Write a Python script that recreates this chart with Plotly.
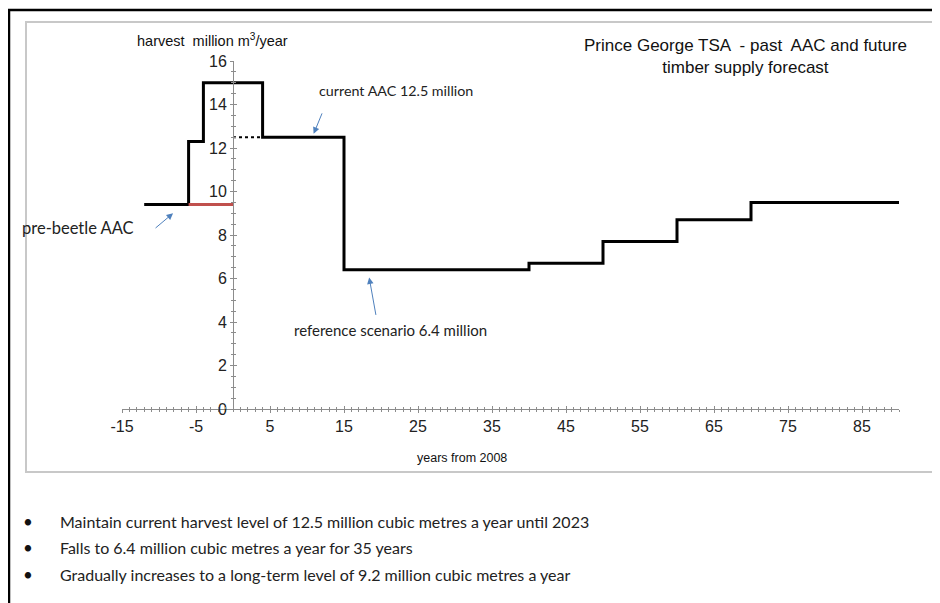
import plotly.graph_objects as go

# ---- data ----
step_years = [-12, -6, -4, 4, 15, 40, 50, 60, 70, 90]
step_harvest = [9.4, 12.3, 15.0, 12.5, 6.4, 6.7, 7.7, 8.7, 9.5, 9.5]
prebeetle_years = [-6, 0]
prebeetle_harvest = [9.4, 9.4]
current_aac_years = [0, 4]
current_aac_harvest = [12.5, 12.5]

x_tick_vals = [-15, -5, 5, 15, 25, 35, 45, 55, 65, 75, 85]
x_tick_text = ["-15", "-5", "5", "15", "25", "35", "45", "55", "65", "75", "85"]
y_tick_vals = [0, 2, 4, 6, 8, 10, 12, 14, 16]

title_text = "Prince George TSA  - past  AAC and future<br>timber supply forecast"
bullets = [
    "Maintain current harvest level of 12.5 million cubic metres a year until 2023",
    "Falls to 6.4 million cubic metres a year for 35 years",
    "Gradually increases to a long-term level of 9.2 million cubic metres a year",
]

# page body has an 8px margin: work in screen coordinates, shift by OFF
OFF = 8
W, H = 940 - OFF, 603 - OFF
PX0, PX1, PY0, PY1 = 122, 899, 61, 409   # plot area in screen px
L, R, T, B = PX0 - OFF, W - (PX1 - OFF), PY0 - OFF, H - (PY1 - OFF)
PW, PH = W - L - R, H - T - B

def px(x):
    return (x - OFF - L) / PW

def py(y):
    return (H - B - (y - OFF)) / PH

SANS = "Liberation Sans, Arial, sans-serif"
CAL = "Lato, Carlito, Calibri, sans-serif"

fig = go.Figure()
fig.add_trace(go.Scatter(x=step_years, y=step_harvest, mode="lines",
                         line=dict(color="black", width=3, shape="hv"),
                         hoverinfo="skip", showlegend=False))
fig.add_trace(go.Scatter(x=prebeetle_years, y=prebeetle_harvest, mode="lines",
                         line=dict(color="#c0504d", width=3),
                         hoverinfo="skip", showlegend=False))
fig.add_trace(go.Scatter(x=current_aac_years, y=current_aac_harvest, mode="lines",
                         line=dict(color="black", width=2, dash="dot"),
                         hoverinfo="skip", showlegend=False))
fig.add_trace(go.Scatter(x=[0], y=[0], xaxis="x2", yaxis="y2", mode="markers",
                         marker=dict(opacity=0), hoverinfo="skip", showlegend=False))

axcommon = dict(showgrid=False, zeroline=False, showline=True,
                linecolor="#8c8c8c", linewidth=1, tickcolor="#8c8c8c")
yposition = (0 - (-15)) / (90 - (-15))

fig.update_layout(
    width=W, height=H,
    margin=dict(l=L, r=R, t=T, b=B),
    paper_bgcolor="white", plot_bgcolor="white",
    xaxis=dict(range=[-15, 90], tickvals=x_tick_vals, ticktext=x_tick_text,
               ticks="outside", ticklen=3,
               minor=dict(dtick=1, tick0=0, ticks="outside", ticklen=2, tickcolor="#8c8c8c"),
               tickfont=dict(family=SANS, size=16, color="#222"),
               anchor="y", **axcommon),
    yaxis=dict(range=[0, 16], tickvals=y_tick_vals, ticks="outside", ticklen=3,
               minor=dict(dtick=0.5, ticks="outside", ticklen=2, tickcolor="#8c8c8c"),
               tickfont=dict(family=SANS, size=16, color="#222"),
               anchor="free", position=yposition, **axcommon),
    xaxis2=dict(range=[-15, 90], tickvals=x_tick_vals, ticks="inside", ticklen=3,
                minor=dict(dtick=1, tick0=0, ticks="inside", ticklen=2, tickcolor="#8c8c8c"),
                showticklabels=False, overlaying="x", anchor="y2", **axcommon),
    yaxis2=dict(range=[0, 16], tickvals=y_tick_vals, ticks="inside", ticklen=3,
                minor=dict(dtick=0.5, ticks="inside", ticklen=2, tickcolor="#8c8c8c"),
                showticklabels=False, overlaying="y", anchor="free",
                position=yposition, **axcommon),
)

shapes = [
    dict(type="rect", xref="paper", yref="paper",
         x0=px(26), x1=px(934), y0=py(472), y1=py(22),
         line=dict(color="#c8c8c8", width=2), layer="below"),
    dict(type="rect", xref="paper", yref="paper",
         x0=px(9), x1=px(980), y0=py(660), y1=py(10),
         line=dict(color="black", width=2.5), layer="below"),
]
fig.update_layout(shapes=shapes)

ann = []
ann.append(dict(text=title_text, xref="paper", yref="paper", x=px(745), y=py(56),
                xanchor="center", yanchor="middle", showarrow=False,
                font=dict(family=SANS, size=17, color="#111")))
ann.append(dict(text="harvest  million m<sup>3</sup>/year", xref="paper", yref="paper",
                x=px(135), y=py(40), xanchor="left", yanchor="middle", showarrow=False,
                font=dict(family=SANS, size=14.5, color="#111")))
ann.append(dict(text="years from 2008", xref="paper", yref="paper",
                x=px(462), y=py(458), xanchor="center", yanchor="middle", showarrow=False,
                font=dict(family=SANS, size=12.5, color="#111")))
blue = "#4f81bd"
ann.append(dict(x=10.9, y=12.65, xref="x", yref="y", ax=9, ay=-22,
                text="", showarrow=True, arrowhead=2, arrowsize=1.3, arrowwidth=1, arrowcolor=blue))
ann.append(dict(x=-8.1, y=9.0, xref="x", yref="y", ax=-19, ay=16,
                text="", showarrow=True, arrowhead=2, arrowsize=1.3, arrowwidth=1, arrowcolor=blue))
ann.append(dict(x=18.4, y=6.05, xref="x", yref="y", ax=7, ay=39,
                text="", showarrow=True, arrowhead=2, arrowsize=1.3, arrowwidth=1, arrowcolor=blue))
ann.append(dict(text="current AAC 12.5 million", xref="paper", yref="paper",
                x=px(317), y=py(90), xanchor="left", yanchor="middle", showarrow=False,
                font=dict(family=CAL, size=14.3, color="#222")))
ann.append(dict(text="pre-beetle AAC", xref="paper", yref="paper",
                x=px(20), y=py(228), xanchor="left", yanchor="middle", showarrow=False,
                font=dict(family=CAL, size=16.5, color="#222")))
ann.append(dict(text="reference scenario 6.4 million", xref="paper", yref="paper",
                x=px(292), y=py(330), xanchor="left", yanchor="middle", showarrow=False,
                font=dict(family=CAL, size=15, color="#222")))
for i, b in enumerate(bullets):
    yy = 521 + i * 26.5
    ann.append(dict(text="\u2022", xref="paper", yref="paper", x=px(28), y=py(yy),
                    xanchor="center", yanchor="middle", showarrow=False,
                    font=dict(family=CAL, size=17, color="#111")))
    ann.append(dict(text=b, xref="paper", yref="paper", x=px(58), y=py(yy),
                    xanchor="left", yanchor="middle", showarrow=False,
                    font=dict(family=CAL, size=16, color="#222")))
fig.update_layout(annotations=ann)

fig.write_html("out.html")
